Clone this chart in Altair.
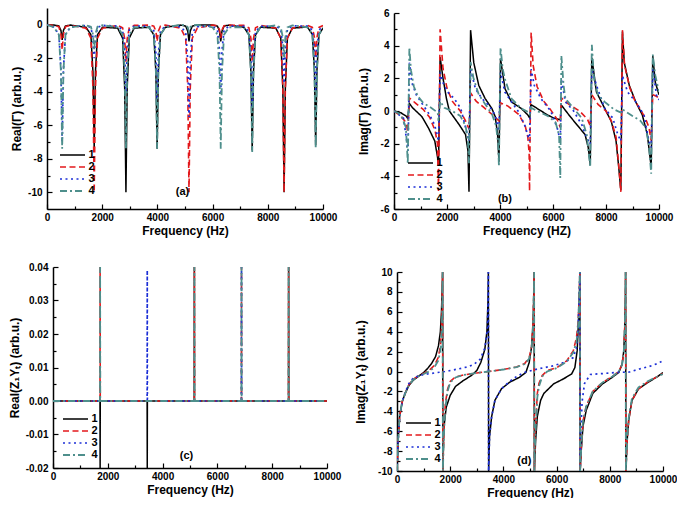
import altair as alt
import pandas as pd

SERIES = ["1", "2", "3", "4"]
COLORS = ["#000000", "#e3191c", "#1c2fd6", "#4e8f8c"]
DASHES = [[1, 0], [6, 3.5], [2, 3.5], [7, 3, 2, 3]]
WIDTHS = [1.5, 1.8, 2.0, 1.7]
FONT = "Liberation Sans Narrow, Liberation Sans"

x_major = [0, 2000, 4000, 6000, 8000, 10000]
x_minor = [1000, 3000, 5000, 7000, 9000]

# ---------- panel (a): Real(Gamma) ----------
freq_a = [0,
          250, 430, 505, 550, 595, 670, 850,
          1410, 1590, 1665, 1710, 1755, 1830, 2010,
          2560, 2740, 2815, 2860, 2905, 2980, 3160,
          3690, 3870, 3945, 3990, 4035, 4110, 4290,
          4845, 5025, 5100, 5145, 5190, 5265, 5445,
          5995, 6175, 6250, 6295, 6340, 6415, 6595,
          7135, 7315, 7390, 7435, 7480, 7555, 7735,
          8290, 8470, 8545, 8590, 8635, 8710, 8890,
          9435, 9615, 9690, 9735, 9780, 9855, 10000]
a_1 = [0,
       -0.02, -0.07, -0.34, -0.9, -0.34, -0.07, -0.02,
       -0.15, -0.59, -2.81, -7.4, -2.81, -0.59, -0.15,
       -0.2, -0.8, -3.8, -10, -3.8, -0.8, -0.2,
       -0.15, -0.59, -2.81, -7.4, -2.81, -0.59, -0.15,
       -0.02, -0.08, -0.38, -1.0, -0.38, -0.08, -0.02,
       -0.02, -0.08, -0.38, -1.0, -0.38, -0.08, -0.02,
       -0.15, -0.6, -2.85, -7.5, -2.85, -0.6, -0.15,
       -0.2, -0.8, -3.8, -10, -3.8, -0.8, -0.2,
       -0.14, -0.58, -2.74, -7.2, -2.74, -0.58, -0.2]
a_2 = [0,
       -0.03, -0.12, -0.57, -1.5, -0.57, -0.12, -0.03,
       -0.2, -0.8, -3.8, -10, -3.8, -0.8, -0.2,
       -0.04, -0.18, -0.84, -2.2, -0.84, -0.18, -0.04,
       -0.02, -0.08, -0.38, -1.0, -0.38, -0.08, -0.02,
       -0.2, -0.8, -3.8, -10, -3.8, -0.8, -0.2,
       -0.02, -0.06, -0.3, -0.8, -0.3, -0.06, -0.02,
       -0.04, -0.18, -0.84, -2.2, -0.84, -0.18, -0.04,
       -0.2, -0.8, -3.8, -10, -3.8, -0.8, -0.2,
       -0.04, -0.16, -0.76, -2.0, -0.76, -0.16, -0.05]
a_3 = [0,
       -0.14, -0.56, -2.66, -7.0, -2.66, -0.56, -0.14,
       -0.04, -0.16, -0.76, -2.0, -0.76, -0.16, -0.04,
       -0.08, -0.32, -1.52, -4.0, -1.52, -0.32, -0.08,
       -0.09, -0.36, -1.71, -4.5, -1.71, -0.36, -0.09,
       -0.11, -0.44, -2.09, -5.5, -2.09, -0.44, -0.11,
       -0.08, -0.32, -1.52, -4.0, -1.52, -0.32, -0.08,
       -0.1, -0.4, -1.9, -5.0, -1.9, -0.4, -0.1,
       -0.07, -0.28, -1.33, -3.5, -1.33, -0.28, -0.07,
       -0.08, -0.32, -1.52, -4.0, -1.52, -0.32, -0.1]
a_4 = [0,
       -0.15, -0.59, -2.81, -7.4, -2.81, -0.59, -0.15,
       -0.03, -0.12, -0.57, -1.5, -0.57, -0.12, -0.03,
       -0.15, -0.59, -2.81, -7.4, -2.81, -0.59, -0.15,
       -0.15, -0.59, -2.81, -7.4, -2.81, -0.59, -0.15,
       -0.01, -0.03, -0.15, -0.4, -0.15, -0.03, -0.01,
       -0.15, -0.59, -2.81, -7.4, -2.81, -0.59, -0.15,
       -0.15, -0.61, -2.89, -7.6, -2.89, -0.61, -0.15,
       -0.04, -0.16, -0.76, -2.0, -0.76, -0.16, -0.04,
       -0.15, -0.59, -2.81, -7.4, -2.81, -0.59, -0.18]

# ---------- panel (b): Imag(Gamma) as (freq, value) ----------
b_1 = [(0, 0), (250, -0.1), (450, -0.3), (520, -0.45), (580, 0.46), (700, 0.2), (1050, -0.34), (1300, -1.04),
       (1540, -1.84), (1640, -2.8), (1680, -3.3), (1740, 3.3), (1850, 2.0), (1980, 0.76), (2090, 0.0),
       (2460, -0.84), (2700, -1.44), (2790, -2.44), (2830, -4.95), (2890, 4.95), (3010, 2.96), (3200, 1.56),
       (3440, 0.76), (3690, 0.16), (3820, -0.34), (3910, -1.44), (3960, -3.1), (4020, 3.2), (4190, 1.36),
       (4430, 0.56), (4800, 0.16), (5050, -0.24), (5125, -0.44), (5165, 0.4), (5300, 0.26), (5790, -0.24),
       (6040, -0.44), (6275, -0.54), (6315, 0.36), (6600, -0.24), (6900, -0.84), (7210, -1.44), (7330, -2.24),
       (7405, -3.24), (7465, 3.26), (7640, 1.16), (7950, 0.16), (8200, -0.64), (8380, -1.84), (8480, -3.44),
       (8560, -4.85), (8620, 4.86), (8690, 2.96), (8880, 1.56), (9120, 0.56), (9370, -0.24), (9560, -1.44),
       (9705, -3.44), (9765, 3.36), (9860, 1.76), (10000, 1.0)]
b_2 = [(0, 0), (250, -0.3), (450, -0.7), (520, -1.3), (580, 0.8), (800, 0.5), (1100, 0.1), (1350, -0.4),
       (1550, -1.2), (1640, -2.0), (1680, -4.9), (1740, 5.0), (1850, 2.6), (2000, 1.4), (2200, 0.6),
       (2500, 0.0), (2700, -0.6), (2830, -1.1), (2890, 1.1), (3100, 0.6), (3400, 0.2), (3700, -0.2),
       (3960, -0.6), (4020, 0.5), (4300, 0.3), (4700, -0.2), (4950, -0.9), (5050, -1.6), (5100, -2.6),
       (5115, -4.9), (5175, 4.8), (5250, 2.8), (5400, 1.5), (5650, 0.6), (5900, 0.1), (6150, -0.5),
       (6275, -1.0), (6315, 0.8), (6600, 0.4), (7000, 0.0), (7300, -0.5), (7405, -0.9), (7465, 1.0),
       (7700, 0.4), (8000, 0.0), (8200, -0.6), (8380, -1.6), (8480, -3.3), (8560, -4.95), (8620, 4.95),
       (8700, 2.8), (8900, 1.4), (9100, 0.6), (9300, 0.1), (9500, -0.5), (9620, -1.0), (9705, -1.8),
       (9765, 1.0), (9900, 0.9), (10000, 0.8)]
b_3 = [(0, 0), (358, -0.44), (481, -1.84), (530, -2.44), (580, 2.96), (667, 1.76), (852, 0.96), (1099, 0.36),
       (1346, -0.24), (1531, -0.84), (1680, -1.84), (1740, 2.36), (1840, 1.76), (2025, 1.16), (2272, 0.76),
       (2519, 0.16), (2704, -1.04), (2830, -1.84), (2890, 2.56), (3074, 1.36), (3321, 0.76), (3568, 0.36),
       (3815, -0.24), (3960, -1.24), (4020, 2.36), (4185, 1.16), (4432, 0.56), (4679, 0.0), (4926, -0.84),
       (5115, -1.84), (5175, 2.56), (5296, 1.56), (5543, 0.76), (5914, 0.0), (6160, -1.04), (6275, -1.84),
       (6315, 1.96), (6469, 0.56), (6778, 0.0), (7086, -0.84), (7272, -1.64), (7405, -2.04), (7465, 2.56),
       (7642, 1.56), (7951, 0.16), (8259, -0.44), (8444, -1.44), (8560, -1.84), (8620, 2.16), (8815, 1.16),
       (9123, 0.56), (9432, -0.24), (9617, -1.84), (9705, -2.24), (9765, 2.56), (9926, 0.76), (10000, 0.7)]
b_4 = [(0, 0), (250, -0.2), (450, -1.0), (520, -3.2), (580, 3.9), (640, 2.5), (750, 1.5), (900, 0.9),
       (1100, 0.5), (1400, 0.2), (1650, -0.1), (1680, -0.6), (1740, 0.6), (1900, 0.2), (2200, 0.0),
       (2500, -0.3), (2700, -0.9), (2790, -1.8), (2830, -3.2), (2890, 3.0), (3000, 2.0), (3200, 1.0),
       (3450, 0.4), (3700, -0.2), (3850, -0.9), (3930, -2.0), (3960, -3.4), (4020, 3.9), (4100, 2.6),
       (4185, 1.96), (4432, 0.76), (4800, 0.16), (5100, -0.1), (5125, -0.2), (5165, 0.2), (5400, 0.0),
       (5800, -0.3), (6100, -0.7), (6230, -1.5), (6275, -4.1), (6315, 3.4), (6400, 1.56), (6469, 0.76),
       (6778, 0.16), (7086, -0.44), (7272, -1.44), (7405, -3.44), (7465, 4.06), (7550, 1.96), (7700, 0.96),
       (7951, 0.56), (8300, 0.1), (8560, -0.1), (8620, 0.1), (9000, -0.3), (9300, -0.6), (9500, -1.04),
       (9617, -2.04), (9705, -3.84), (9765, 3.46), (9864, 2.16), (10000, 1.16)]

# ---------- panel (c): Real(Z1 Yt) ----------
c_1 = [(0, 0), (1715, 0), (1720, -0.02), (1725, 0), (3435, 0), (3440, -0.02), (3445, 0), (5155, 0),
       (5160, 0.04), (5165, 0), (8595, 0), (8600, 0.04), (8605, 0), (10000, 0)]
c_2 = [(0, 0), (1715, 0), (1720, 0.04), (1725, 0), (5155, 0), (5160, 0.04), (5165, 0), (6875, 0),
       (6880, 0.04), (6885, 0), (8595, 0), (8600, 0.04), (8605, 0), (10000, 0)]
c_3 = [(0, 0), (3435, 0), (3440, 0.039), (3445, 0), (6875, 0), (6880, 0.04), (6885, 0), (10000, 0)]
c_4 = [(0, 0), (1715, 0), (1720, 0.04), (1725, 0), (5155, 0), (5160, 0.04), (5165, 0), (6875, 0),
       (6880, 0.04), (6885, 0), (8595, 0), (8600, 0.04), (8605, 0), (10000, 0)]

# ---------- panel (d): Imag(Z1 Yt) ----------
d_1 = [(0, -10), (40, -7), (100, -4.5), (200, -3.0), (307, -2.2), (450, -1.4), (600, -0.9), (800, -0.5),
       (1000, -0.1), (1150, 0.3), (1300, 0.8), (1450, 1.5), (1560, 2.6), (1630, 4.0), (1670, 5.9),
       (1695, 8.0), (1715, 10),
       (1725, -10), (1760, -5.7), (1850, -3.6), (2000, -2.4), (2200, -1.5), (2500, -0.9), (2800, -0.4),
       (3000, 0.1), (3150, 0.9), (3300, 2.2), (3380, 4.0), (3420, 7.0), (3435, 10),
       (3445, -10), (3480, -6.5), (3557, -4.55), (3681, -2.9), (3926, -1.74), (4233, -1.08), (4601, -0.59),
       (4846, -0.09), (4970, 0.9), (5060, 2.5), (5120, 5.0), (5145, 8.0), (5155, 10),
       (5165, -10), (5210, -7), (5276, -4.5), (5399, -2.9), (5521, -2.2), (5890, -1.24), (6258, -0.74),
       (6565, -0.25), (6687, 0.4), (6773, 2.07), (6822, 5.0), (6860, 8.0), (6875, 10),
       (6885, -10), (6930, -7.8), (6992, -5.5), (7114, -3.9), (7360, -2.2), (7728, -1.24), (8096, -0.58),
       (8341, -0.08), (8464, 0.74), (8525, 2.07), (8562, 4.4), (8585, 7.0), (8595, 10),
       (8605, -10), (8650, -7), (8710, -4.9), (8833, -2.9), (9079, -1.74), (9448, -1.07), (9800, -0.5),
       (10000, -0.1)]
d_2 = [(0, -10), (40, -7), (100, -4.5), (200, -3.0), (307, -2.2), (450, -1.3), (600, -0.8), (800, -0.45),
       (1000, -0.2), (1200, 0.1), (1400, 0.6), (1550, 1.4), (1630, 2.5), (1670, 4.0), (1695, 6.5), (1715, 10),
       (1725, -10), (1760, -6), (1820, -3.2), (1900, -1.8), (2000, -1.0), (2200, -0.55), (2500, -0.35),
       (3000, -0.15), (3440, 0.0), (4000, 0.2), (4500, 0.45), (4800, 0.8), (4970, 1.4), (5060, 2.5),
       (5115, 5.0), (5145, 8), (5155, 10),
       (5165, -10), (5200, -6), (5276, -2.2), (5337, -1.2), (5460, -0.4), (5644, 0.08), (6012, 0.4),
       (6380, 1.07), (6626, 2.07), (6748, 3.4), (6810, 5.0), (6850, 7.5), (6875, 10),
       (6885, -10), (6930, -7.5), (6992, -5.0), (7114, -3.5), (7360, -2.0), (7728, -1.1), (8096, -0.5),
       (8341, 0.0), (8464, 0.74), (8525, 2.07), (8562, 4.4), (8585, 7), (8595, 10),
       (8605, -10), (8650, -7), (8710, -4.9), (8833, -2.9), (9079, -1.74), (9448, -1.0), (9800, -0.5),
       (10000, -0.2)]
d_3 = [(0, -10), (40, -7), (100, -4.5), (200, -3.0), (307, -2.1), (450, -1.2), (600, -0.7), (800, -0.45),
       (1000, -0.3), (1400, -0.15), (1800, 0.0), (2300, 0.25), (2700, 0.5), (2900, 0.74), (3130, 1.24),
       (3310, 2.4), (3400, 4.4), (3428, 8), (3435, 10),
       (3445, -10), (3480, -6.5), (3557, -4.55), (3681, -2.9), (3926, -1.74), (4233, -1.0), (4500, -0.5),
       (4785, -0.1), (5276, 0.25), (5890, 0.58), (6258, 0.9), (6626, 1.4), (6748, 2.4), (6810, 4.4),
       (6855, 8), (6875, 10),
       (6885, -10), (6910, -6), (6960, -3), (7050, -1.2), (7268, -0.3), (7760, -0.2), (8251, -0.1),
       (8742, -0.05), (9110, 0.25), (9479, 0.5), (9800, 0.8), (10000, 1.1)]
d_4 = [(0, -10), (40, -7), (100, -4.5), (200, -3.0), (307, -2.2), (450, -1.35), (600, -0.85), (800, -0.5),
       (1000, -0.25), (1200, 0.0), (1400, 0.4), (1550, 1.1), (1630, 2.0), (1670, 3.2), (1695, 5.5), (1715, 10),
       (1725, -10), (1760, -6.5), (1820, -3.6), (1900, -2.0), (2000, -1.1), (2200, -0.6), (2500, -0.35),
       (3000, -0.15), (3440, 0.0), (4000, 0.2), (4500, 0.45), (4800, 0.75), (4970, 1.3), (5060, 2.3),
       (5115, 4.6), (5145, 8), (5155, 10),
       (5165, -10), (5200, -6.5), (5276, -2.6), (5337, -1.5), (5460, -0.5), (5644, 0.0), (6012, 0.35),
       (6380, 1.0), (6626, 1.9), (6748, 3.0), (6810, 4.6), (6850, 7.5), (6875, 10),
       (6885, -10), (6930, -7.5), (6992, -5.0), (7114, -3.5), (7360, -2.0), (7728, -1.1), (8096, -0.5),
       (8341, 0.0), (8464, 0.7), (8525, 2.0), (8562, 4.2), (8585, 7), (8595, 10),
       (8605, -10), (8650, -7), (8710, -4.7), (8833, -2.7), (9079, -1.6), (9448, -0.95), (9800, -0.5),
       (10000, -0.25)]


def frame(curves):
    rows = []
    for name, pts in zip(SERIES, curves):
        for i, (f, v) in enumerate(pts):
            rows.append({"f": f, "v": v, "s": name, "i": i})
    return pd.DataFrame(rows)


df_a = frame([list(zip(freq_a, a)) for a in (a_1, a_2, a_3, a_4)])
df_b = frame([b_1, b_2, b_3, b_4])
df_c = frame([c_1, c_2, c_3, c_4])
df_d = frame([d_1, d_2, d_3, d_4])

HYPHEN = "replace(datum.label, '\u2212', '-')"


def panel(df, ydom, ymaj, ymin, yfmt, ytitle, xtitle, W, H, left, top, tag, tagpos, tpad, legxy):
    xs = alt.Scale(domain=[0, 10000], nice=False, zero=False, range=[left, W])
    ys = alt.Scale(domain=ydom, nice=False, zero=False, range=[H, top])
    leg = alt.Legend(orient="none", legendX=legxy[0] + left, legendY=legxy[1], title=None,
                     symbolType="M-2.5,0H2.5", symbolSize=100, symbolStrokeWidth=1.8,
                     labelOffset=10, rowPadding=1, padding=0,
                     labelFont=FONT, labelFontWeight="bold", labelFontSize=11, labelColor="black")
    lines = alt.Chart(df).mark_line(clip=True).encode(
        x=alt.X("f:Q", scale=xs, axis=alt.Axis(values=x_major, format="d", title=xtitle, ticks=False,
                                              tickSize=0, labelPadding=3, titlePadding=3, minExtent=0,
                                              labelFlush=False)),
        y=alt.Y("v:Q", scale=ys, axis=alt.Axis(values=ymaj, format=yfmt, title=ytitle, ticks=False,
                                              tickSize=0, labelPadding=5, titlePadding=tpad,
                                              labelExpr=HYPHEN, minExtent=0, offset=-left)),
        color=alt.Color("s:N", scale=alt.Scale(domain=SERIES, range=COLORS), legend=leg),
        strokeDash=alt.StrokeDash("s:N", scale=alt.Scale(domain=SERIES, range=DASHES), legend=leg),
        strokeWidth=alt.StrokeWidth("s:N", scale=alt.Scale(domain=SERIES, range=WIDTHS), legend=None),
        order="i:Q",
    )
    one = pd.DataFrame({"f": [0], "v": [ydom[0]]})

    def ticks_layer(xv, yv, size):
        return alt.Chart(one).mark_point(opacity=0).encode(
            x=alt.X("f:Q", scale=xs, axis=alt.Axis(orient="top", offset=-H, values=xv, labels=False,
                                                  domain=False, title=None, tickSize=size, tickWidth=1.2,
                                                  tickColor="black", minExtent=0)),
            y=alt.Y("v:Q", scale=ys, axis=alt.Axis(orient="right", offset=-(W - left), values=yv,
                                                  labels=False, domain=False, title=None, tickSize=size,
                                                  tickWidth=1.2, tickColor="black", minExtent=0)),
        )

    label = alt.Chart(pd.DataFrame({"f": [tagpos[0]], "v": [tagpos[1]], "t": [tag]})).mark_text(
        font=FONT, fontWeight="bold", fontSize=11, color="black").encode(
        x=alt.X("f:Q", scale=xs, axis=None), y=alt.Y("v:Q", scale=ys, axis=None), text="t:N")
    return alt.layer(lines, ticks_layer(x_major, ymaj, 5), ticks_layer(x_minor, ymin, 3), label).resolve_axis(
        x="independent", y="independent").properties(width=W, height=H)


pa = panel(df_a, [-11, 1], [0, -2, -4, -6, -8, -10], [-1, -3, -5, -7, -9], "d",
           "Real(Γ) (arb.u.)", "Frequency (Hz)", 276, 201, 0, 0, "(a)", (4910, -10.0), 4, (19.5, 141))
pb = panel(df_b, [-6, 6], [-6, -4, -2, 0, 2, 4, 6], [-5, -3, -1, 1, 3, 5], "d",
           "Imag(Γ) (arb.u.)", "Frequency (HZ)", 265, 201, 0, 5, "(b)", (4185, -5.4), 10, (20.5, 149))
pc = panel(df_c, [-0.02, 0.04], [-0.02, -0.01, 0.0, 0.01, 0.02, 0.03, 0.04],
           [-0.015, -0.005, 0.005, 0.015, 0.025, 0.035], ".2f",
           "Real(Z₁Yₜ) (arb.u.)", "Frequency (Hz)", 280, 201, 6, 0, "(c)", (4870, -0.0165), 4, (16.5, 146))
pd_ = panel(df_d, [-10, 10], [-10, -8, -6, -4, -2, 0, 2, 4, 6, 8, 10], [-9, -7, -5, -3, -1, 1, 3, 5, 7, 9], "d",
            "Imag(Z₁Yₜ) (arb.u.)", "Frequency (Hz)", 266, 204, 0, 5, "(d)", (4785, -8.95), 10, (15.5, 150))

top = alt.hconcat(pa, pb, spacing=20).resolve_scale(color="independent", strokeDash="independent",
                                                     strokeWidth="independent").resolve_legend(
    color="independent", strokeDash="independent")
bottom = alt.hconcat(pc, pd_, spacing=13).resolve_scale(color="independent", strokeDash="independent",
                                                        strokeWidth="independent").resolve_legend(
    color="independent", strokeDash="independent")

chart = alt.vconcat(top, bottom, spacing=26, padding=0).resolve_scale(
    color="independent", strokeDash="independent", strokeWidth="independent").resolve_legend(
    color="independent", strokeDash="independent").configure(padding=0).configure_view(
    stroke=None).configure_axis(
    domainColor="black", domainWidth=1.5, grid=False,
    labelFont=FONT, labelFontWeight="bold", labelFontSize=10, labelColor="black",
    titleFont=FONT, titleFontWeight="bold", titleFontSize=12, titleColor="black",
).configure_legend(labelLimit=40)

chart.save("out.html", embed_options={"renderer": "svg", "actions": False})
